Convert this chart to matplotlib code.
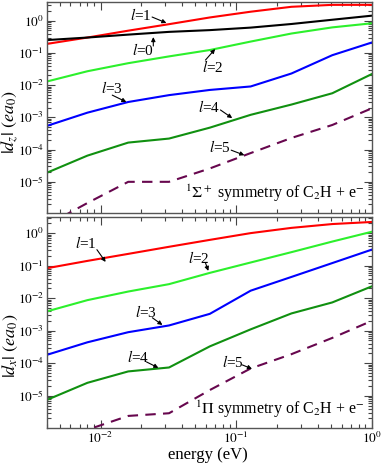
import matplotlib
matplotlib.use("Agg")
import matplotlib.pyplot as plt
from matplotlib.ticker import LogLocator, FixedLocator, FixedFormatter, NullFormatter
import numpy as np

plt.rcParams['font.family'] = ['Liberation Serif', 'DejaVu Serif']
plt.rcParams['mathtext.fontset'] = 'stix'

energy = [0.004, 0.008, 0.016, 0.032, 0.064, 0.128, 0.256, 0.512, 1.0]

# 1Sigma+ symmetry (|d_z|)
sig_l0 = [0.25, 0.30, 0.37, 0.45, 0.51, 0.61, 0.79, 1.07, 1.43]
sig_l1 = [0.19, 0.30, 0.49, 0.78, 1.26, 1.9, 2.7, 3.1, 3.1]
sig_l2 = [0.0129, 0.027, 0.048, 0.078, 0.123, 0.225, 0.40, 0.62, 0.83]
sig_l3 = [5.4e-4, 1.4e-3, 3.0e-3, 4.9e-3, 7.1e-3, 9.1e-3, 0.023, 0.085, 0.21]
sig_l4 = [1.9e-5, 6.5e-5, 1.65e-4, 2.2e-4, 4.8e-4, 1.2e-3, 2.5e-3, 5.6e-3, 0.022]
sig_l5 = [4.5e-7, 2.2e-6, 1.0e-5, 1.0e-5, 2.6e-5, 7.8e-5, 2.3e-4, 5.8e-4, 1.9e-3]

# 1Pi symmetry (|d_x|)
pi_l1 = [0.083, 0.14, 0.23, 0.38, 0.62, 1.0, 1.45, 1.9, 2.2]
pi_l2 = [3.9e-3, 8.7e-3, 0.016, 0.027, 0.06, 0.125, 0.26, 0.55, 1.1]
pi_l3 = [1.8e-4, 4.4e-4, 9.0e-4, 1.45e-3, 3.3e-3, 0.017, 0.045, 0.12, 0.31]
pi_l4 = [7.4e-6, 2.5e-5, 5.6e-5, 7.4e-5, 3.3e-4, 1.1e-3, 3.4e-3, 7.4e-3, 0.023]
pi_l5 = [2.0e-7, 9.0e-7, 2.4e-6, 2.9e-6, 1.5e-5, 6.9e-5, 1.9e-4, 6.0e-4, 2.0e-3]

c_red = '#ff0000'
c_black = '#000000'
c_lime = '#2cf02c'
c_blue = '#0000ff'
c_green = '#109010'
c_purple = '#67074e'

W, H = 382, 467
fig = plt.figure(figsize=(W / 100, H / 100), dpi=100)
L, R = 0.122, 0.973
ax1 = fig.add_axes([L, 0.5445, R - L, 0.9957 - 0.5445])
ax2 = fig.add_axes([L, 0.0829, R - L, 0.536 - 0.0829])

lw = 1.5
dash = (0, (5, 3.5))
ax1.plot(energy, sig_l1, color=c_red, lw=lw)
ax1.plot(energy, sig_l0, color=c_black, lw=lw)
ax1.plot(energy, sig_l2, color=c_lime, lw=lw)
ax1.plot(energy, sig_l3, color=c_blue, lw=lw)
ax1.plot(energy, sig_l4, color=c_green, lw=lw)
ax1.plot(energy, sig_l5, color=c_purple, lw=lw, ls=dash)

ax2.plot(energy, pi_l1, color=c_red, lw=lw)
ax2.plot(energy, pi_l2, color=c_lime, lw=lw)
ax2.plot(energy, pi_l3, color=c_blue, lw=lw)
ax2.plot(energy, pi_l4, color=c_green, lw=lw)
ax2.plot(energy, pi_l5, color=c_purple, lw=lw, ls=dash)

ax1.set_ylim(1.1e-6, 3.8)
ax2.set_ylim(1.0e-6, 3.2)

ylabels_pos = [1e-5, 1e-4, 1e-3, 1e-2, 1e-1, 1e0]
ylabels_txt = [r'$10^{-5}$', r'$10^{-4}$', r'$10^{-3}$', r'$10^{-2}$', r'$10^{-1}$', r'$10^{0}$']
xlabels_pos = [1e-2, 1e-1, 1e0]
xlabels_txt = [r'$10^{-2}$', r'$10^{-1}$', r'$10^{0}$']

for ax in (ax1, ax2):
    ax.set_xscale('log')
    ax.set_yscale('log')
    ax.set_xlim(0.004, 1.0)
    ax.yaxis.set_major_locator(FixedLocator(ylabels_pos))
    ax.yaxis.set_major_formatter(FixedFormatter(ylabels_txt))
    ax.yaxis.set_minor_locator(LogLocator(base=10, subs=np.arange(2, 10), numticks=20))
    ax.yaxis.set_minor_formatter(NullFormatter())
    ax.xaxis.set_major_locator(FixedLocator(xlabels_pos))
    ax.xaxis.set_major_formatter(FixedFormatter(xlabels_txt))
    ax.xaxis.set_minor_locator(LogLocator(base=10, subs=np.arange(2, 10), numticks=20))
    ax.xaxis.set_minor_formatter(NullFormatter())
    ax.tick_params(which='both', direction='in', top=True, right=True, labelsize=9.5,
                   colors='#444444', labelcolor='black', pad=2)
    ax.tick_params(which='major', length=6, width=0.8)
    ax.tick_params(which='minor', length=3, width=0.8)
    for s in ax.spines.values():
        s.set_linewidth(1.0)
        s.set_color('#555555')

ax1.tick_params(axis='x', labelbottom=False)

fig.text(10 / W, 1 - 122 / H, r'$|d_z|\ (ea_0)$', fontsize=13, rotation=90, ha='center', va='center')
fig.text(10 / W, 1 - 346 / H, r'$|d_x|\ (ea_0)$', fontsize=13, rotation=90, ha='center', va='center')
fig.text(208 / W, 1 - 455 / H, 'energy (eV)', fontsize=12, ha='center', va='center')

arrow = dict(arrowstyle='-|>', color='black', lw=0.8, mutation_scale=6, shrinkA=0, shrinkB=0)
fs = 11


def label(ax, text, xytext, tail, head):
    ax.text(xytext[0], xytext[1], text, fontsize=fs, ha='center', va='center')
    ax.annotate('', xy=head, xytext=tail, arrowprops=arrow)


# top panel annotations
label(ax1, r'$l$=1', (0.0197, 1.5), (0.024, 1.3), (0.0306, 0.85))
label(ax1, r'$l$=0', (0.0204, 0.123), (0.0245, 0.164), (0.0245, 0.31))
label(ax1, r'$l$=2', (0.0668, 0.0365), (0.0594, 0.060), (0.070, 0.132))
label(ax1, r'$l$=3', (0.0122, 0.0081), (0.0122, 0.0049), (0.0155, 0.0030))
label(ax1, r'$l$=4', (0.0635, 0.0021), (0.0766, 0.0017), (0.0936, 9.5e-4))
label(ax1, r'$l$=5', (0.0765, 1.2e-4), (0.092, 9.6e-5), (0.115, 6.7e-5))
ax1.text(0.979, 0.04, r'$^1\Sigma^+$ symmetry of C$_2$H + e$^{-}$', transform=ax1.transAxes,
         fontsize=11.5, ha='right', va='bottom')

# bottom panel annotations
label(ax2, r'$l$=1', (0.00775, 0.50), (0.0094, 0.31), (0.0109, 0.13))
label(ax2, r'$l$=2', (0.0527, 0.174), (0.0594, 0.122), (0.0624, 0.069))
label(ax2, r'$l$=3', (0.0218, 0.0038), (0.0241, 0.0025), (0.0286, 0.0015))
label(ax2, r'$l$=4', (0.019, 1.56e-4), (0.0218, 1.1e-4), (0.0267, 7.2e-5))
label(ax2, r'$l$=5', (0.0953, 1.1e-4), (0.111, 8.9e-5), (0.131, 6.7e-5))
ax2.text(0.979, 0.04, r'$^1\Pi$ symmetry of C$_2$H + e$^{-}$', transform=ax2.transAxes,
         fontsize=11.5, ha='right', va='bottom')

fig.savefig('out.png', dpi=100)
